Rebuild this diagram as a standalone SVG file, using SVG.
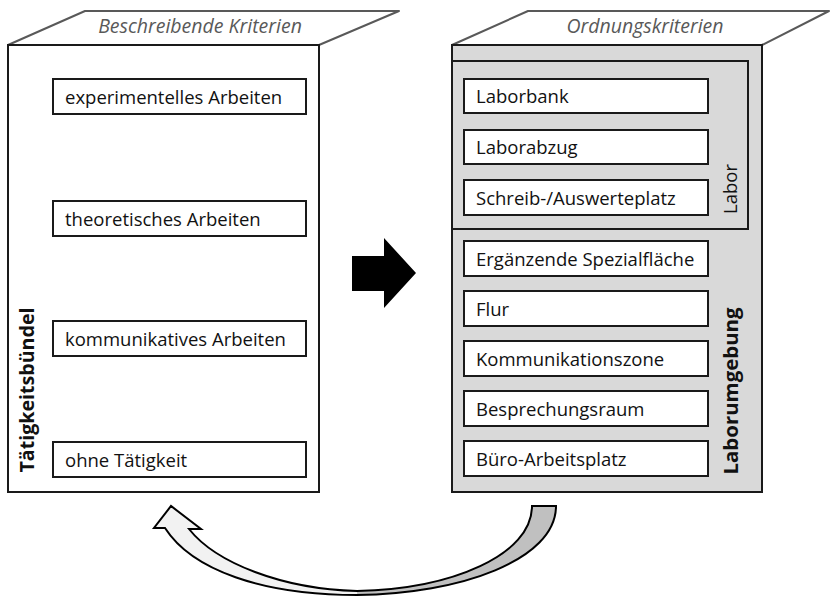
<svg xmlns="http://www.w3.org/2000/svg" width="831" height="596" viewBox="0 0 831 596">
  <style>
    .txt { font-family: "Open Sans", "Noto Sans", sans-serif; font-size: 18.5px; fill: #111; }
    .head { font-family: "Open Sans", "Noto Sans", sans-serif; font-size: 19.5px; font-style: italic; fill: #595959; text-anchor: middle; }
    .vlab { font-family: "Open Sans", "Noto Sans", sans-serif; font-size: 18.5px; fill: #111; text-anchor: middle; }
    .bold { font-weight: bold; font-size: 20px; }
    .item { fill: #fff; stroke: #1a1a1a; stroke-width: 2; }
    .front { stroke: #1a1a1a; stroke-width: 2; }
    .lid { fill: #fff; stroke: #595959; stroke-width: 2; stroke-linejoin: round; }
  </style>
  <defs>
    <linearGradient id="cycleFill" gradientUnits="userSpaceOnUse" x1="154" y1="0" x2="556" y2="0">
      <stop offset="0.505" stop-color="#f2f2f2"/>
      <stop offset="0.505" stop-color="#c0c0c0"/>
    </linearGradient>
  </defs>
  <rect width="831" height="596" fill="#fff"/>

  <!-- left block: descriptive criteria -->
  <g id="beschreibende-kriterien">
    <polygon class="lid" points="8,45 85,11 399,11 319,45"/>
    <text class="head" x="200" y="33">Beschreibende Kriterien</text>
    <rect class="front" x="8" y="45" width="311" height="447" fill="#fff"/>
    <text class="vlab bold" transform="translate(34,390) rotate(-90)" textLength="165" lengthAdjust="spacingAndGlyphs">Tätigkeitsbündel</text>
  </g>
  <g id="experimentelles-arbeiten">
    <rect class="item" x="53" y="79" width="253" height="35"/>
    <text class="txt" x="65" y="103.5">experimentelles Arbeiten</text>
  </g>
  <g id="theoretisches-arbeiten">
    <rect class="item" x="53" y="201" width="253" height="35"/>
    <text class="txt" x="65" y="225.5">theoretisches Arbeiten</text>
  </g>
  <g id="kommunikatives-arbeiten">
    <rect class="item" x="53" y="321" width="253" height="35"/>
    <text class="txt" x="65" y="345.5">kommunikatives Arbeiten</text>
  </g>
  <g id="ohne-taetigkeit">
    <rect class="item" x="53" y="442" width="253" height="35"/>
    <text class="txt" x="65" y="466.5">ohne Tätigkeit</text>
  </g>

  <!-- right block: ordering criteria -->
  <g id="ordnungskriterien">
    <polygon class="lid" points="452,45 528,11 829,11 762,45"/>
    <text class="head" x="645" y="33">Ordnungskriterien</text>
    <rect class="front" x="452" y="45" width="310" height="447" fill="#d9d9d9"/>
    <text class="vlab bold" transform="translate(738,391) rotate(-90)" textLength="167" lengthAdjust="spacingAndGlyphs">Laborumgebung</text>
  </g>
  <g id="labor">
    <rect class="front" x="452" y="61" width="296" height="168" fill="#d9d9d9"/>
    <text class="vlab" transform="translate(737,189) rotate(-90)">Labor</text>
  </g>
  <g id="laborbank">
    <rect class="item" x="464" y="79" width="244" height="34"/>
    <text class="txt" x="476" y="103">Laborbank</text>
  </g>
  <g id="laborabzug">
    <rect class="item" x="464" y="130" width="244" height="34"/>
    <text class="txt" x="476" y="154">Laborabzug</text>
  </g>
  <g id="schreib-auswerteplatz">
    <rect class="item" x="464" y="180" width="244" height="35"/>
    <text class="txt" x="476" y="204.5">Schreib-/Auswerteplatz</text>
  </g>
  <g id="ergaenzende-spezialflaeche">
    <rect class="item" x="464" y="241" width="244" height="35"/>
    <text class="txt" x="476" y="265.5">Ergänzende Spezialfläche</text>
  </g>
  <g id="flur">
    <rect class="item" x="464" y="291" width="244" height="35"/>
    <text class="txt" x="476" y="315.5">Flur</text>
  </g>
  <g id="kommunikationszone">
    <rect class="item" x="464" y="341" width="244" height="35"/>
    <text class="txt" x="476" y="365.5">Kommunikationszone</text>
  </g>
  <g id="besprechungsraum">
    <rect class="item" x="464" y="391" width="244" height="35"/>
    <text class="txt" x="476" y="415.5">Besprechungsraum</text>
  </g>
  <g id="buero-arbeitsplatz">
    <rect class="item" x="464" y="441" width="244" height="35"/>
    <text class="txt" x="476" y="465.5">Büro-Arbeitsplatz</text>
  </g>

  <!-- connectors -->
  <g id="connectors">
    <polygon points="352,256 384,256 384,238 416,273 384,308 384,291 352,291" fill="#000"/>
    <path d="M556,506 C556,560 460,594 357,595 C262,595 192,570 165,528 L154,528 L171,506 L201,529 L189,529 C216,563 282,589 357,591 C452,589 532,555 532,506 Z"
          fill="url(#cycleFill)" stroke="#000" stroke-width="2" stroke-linejoin="miter"/>
  </g>
</svg>
